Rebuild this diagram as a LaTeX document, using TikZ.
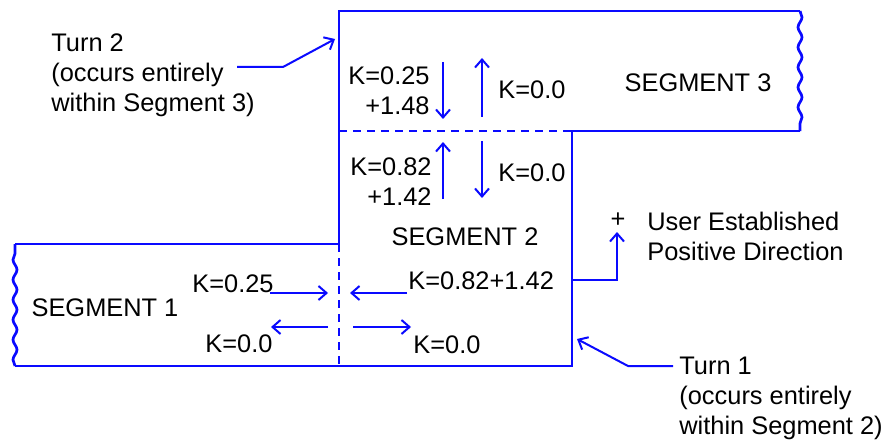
\documentclass[tikz,border=0pt]{standalone}
\usepackage{fontspec}
\setmainfont{Liberation Sans}
\usetikzlibrary{arrows.meta,decorations.pathmorphing}
\definecolor{lineblue}{RGB}{10,10,255}
\tikzset{
  outline/.style={draw=lineblue, line width=1.35pt},
  wavy/.style={draw=lineblue, line width=1.35pt, decorate, decoration={snake, segment length=10pt, amplitude=1pt}},
  divider/.style={draw=lineblue, line width=1.35pt, dash pattern=on 4pt off 3pt},
  flow/.style={draw=lineblue, line width=1pt, -{Straight Barb[length=4pt,width=7pt,line width=1pt]}},
  lbl/.style={inner sep=0pt, font=\fontsize{12.7}{15}\selectfont, text=black},
}
\begin{document}
\begin{tikzpicture}[x=0.5pt,y=-0.5pt]
\useasboundingbox (0,0) rectangle (888,444);
% outline
\coordinate (s3tl) at (339,11);
\coordinate (s3tr) at (800,11);
\coordinate (s3br) at (800,131);
\coordinate (s2tr) at (572,131);
\coordinate (s2br) at (572,366);
\coordinate (s1bl) at (15,366);
\coordinate (s1tl) at (15,244);
\coordinate (s1tr) at (339,244);
\coordinate (d1top) at (339,131);
\coordinate (d2bot) at (339,366);
\path[outline] (s3br) -- (s2tr) -- (s2br) -- (s1bl);
\path[outline] (s1tl) -- (s1tr) -- (s3tl) -- (s3tr);
\path[wavy] (s3tr) -- (s3br);
\path[wavy] (s1bl) -- (s1tl);
\path[divider] (d1top) -- (s2tr);
\path[divider] (s1tr) -- (d2bot);

% segment labels
\node[lbl] (seg3) at (698,83) {SEGMENT 3};
\node[lbl] (seg2) at (465,237) {SEGMENT 2};
\node[lbl] (seg1) at (105,308) {SEGMENT 1};

% segment 3 arrows
\coordinate (a1s) at (443,62); \coordinate (a1e) at (443,119);
\coordinate (a2s) at (482,117); \coordinate (a2e) at (482,58);
\path[flow] (a1s) -- (a1e);
\path[flow] (a2s) -- (a2e);
\node[lbl, align=right, anchor=east] (k3a) at (430,91) {K=0.25\\+1.48};
\node[lbl, anchor=west] (k3b) at (498,90) {K=0.0};

% segment 2 arrows
\coordinate (b1s) at (443,199); \coordinate (b1e) at (443,142);
\coordinate (b2s) at (482,141); \coordinate (b2e) at (482,198);
\path[flow] (b1s) -- (b1e);
\path[flow] (b2s) -- (b2e);
\node[lbl, align=right, anchor=east] (k2a) at (432,182) {K=0.82\\+1.42};
\node[lbl, anchor=west] (k2b) at (498,173) {K=0.0};

% segment 1/2 boundary arrows
\coordinate (c1s) at (270,293); \coordinate (c1e) at (328,293);
\coordinate (c2s) at (407,293); \coordinate (c2e) at (350,293);
\coordinate (c3s) at (328,327); \coordinate (c3e) at (271,327);
\coordinate (c4s) at (353,327); \coordinate (c4e) at (411,327);
\path[flow] (c1s) -- (c1e);
\path[flow] (c2s) -- (c2e);
\path[flow] (c3s) -- (c3e);
\path[flow] (c4s) -- (c4e);
\node[lbl, anchor=west] (k1a) at (192,284) {K=0.25};
\node[lbl, anchor=west] (k1b) at (205,344) {K=0.0};
\node[lbl, anchor=west] (k2c) at (408,281) {K=0.82+1.42};
\node[lbl, anchor=west] (k2d) at (413,345) {K=0.0};

% positive direction
\coordinate (p0) at (572,280);
\coordinate (p1) at (617,280);
\coordinate (p2) at (617,232);
\path[flow] (p0) -- (p1) -- (p2);
\node[lbl] (plus) at (618,220) {+};
\node[lbl, align=left, anchor=west] (pos) at (647,236) {User Established\\Positive Direction};

% Turn 2
\node[lbl, align=left, anchor=west] (turn2) at (51,75) {Turn 2\\(occurs entirely\\within Segment 3)};
\coordinate (t2a) at (237,67);
\coordinate (t2b) at (283,67);
\coordinate (t2c) at (335,39);
\path[flow] (t2a) -- (t2b) -- (t2c);

% Turn 1
\node[lbl, align=left, anchor=west] (turn1) at (679,398) {Turn 1\\(occurs entirely\\within Segment 2)};
\coordinate (t1a) at (673,366);
\coordinate (t1b) at (628,366);
\coordinate (t1c) at (577,339);
\path[flow] (t1a) -- (t1b) -- (t1c);
\end{tikzpicture}
\end{document}
